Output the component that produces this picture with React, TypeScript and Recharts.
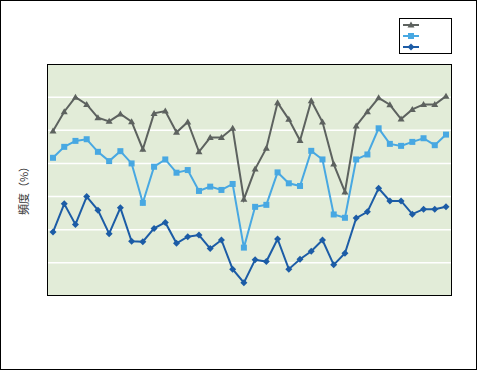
import { LineChart, Line, XAxis, YAxis, CartesianGrid } from 'recharts'

const periods = [
  '1', '2', '3', '4', '5', '6', '7', '8', '9', '10', '11', '12',
  '13', '14', '15', '16', '17', '18', '19', '20', '21', '22', '23', '24',
  '25', '26', '27', '28', '29', '30', '31', '32', '33', '34', '35', '36',
]

const upper = [
  49.8, 55.6, 60.0, 57.8, 53.8, 52.7, 54.9, 52.6, 44.3, 55.1, 55.8, 49.4,
  52.5, 43.5, 47.8, 47.8, 50.6, 29.2, 38.3, 44.6, 58.3, 53.3, 46.9, 58.9,
  52.5, 39.8, 31.4, 51.3, 55.6, 59.8, 57.7, 53.4, 56.3, 57.8, 57.8, 60.3,
]
const middle = [
  41.7, 45.0, 46.8, 47.3, 43.5, 40.7, 43.7, 40.0, 28.1, 39.0, 41.2, 37.2,
  38.0, 31.7, 33.0, 32.0, 33.8, 14.6, 26.9, 27.5, 37.3, 34.0, 33.2, 43.8,
  41.2, 24.6, 23.6, 41.2, 42.7, 50.6, 45.9, 45.3, 46.5, 47.6, 45.5, 48.7,
]
const lower = [
  19.3, 27.8, 21.6, 30.0, 25.9, 18.8, 26.6, 16.5, 16.4, 20.4, 22.2, 15.9,
  17.9, 18.4, 14.3, 16.9, 8.1, 4.0, 10.9, 10.4, 17.2, 8.1, 11.1, 13.5,
  16.9, 9.4, 12.9, 23.5, 25.4, 32.5, 28.7, 28.7, 24.7, 26.2, 26.2, 26.9,
]
const yTicks = [0, 10, 20, 30, 40, 50, 60, 70]

const GRAY = '#5d625f'
const LIGHT = '#48a8e2'
const DARK = '#1c5ca6'

const data = periods.map((p, i) => ({ period: p, upper: upper[i], middle: middle[i], lower: lower[i] }))

const Triangle = ({ cx, cy, c }: any) => (
  <polygon points={`${cx},${cy - 3.5} ${cx + 3.5},${cy + 2.5} ${cx - 3.5},${cy + 2.5}`} fill={c} />
)
const Square = ({ cx, cy, c }: any) => <rect x={cx - 3} y={cy - 3} width={6} height={6} fill={c} />
const Diamond = ({ cx, cy, c }: any) => (
  <polygon points={`${cx},${cy - 3.5} ${cx + 3.5},${cy} ${cx},${cy + 3.5} ${cx - 3.5},${cy}`} fill={c} />
)

const marker = (Shape: any, c: string) => (p: any) => <Shape key={p.index} cx={p.cx} cy={p.cy} c={c} />

const legendItems = [
  { shape: Triangle, color: GRAY },
  { shape: Square, color: LIGHT },
  { shape: Diamond, color: DARK },
]

const LegendBox = () => (
  <svg width={54} height={37} style={{ position: 'absolute', left: 399, top: 18 }}>
    <rect x={0.5} y={0.5} width={52} height={35} fill="#fff" stroke="#000" />
    {legendItems.map((it, i) => {
      const y = 7 + i * 11
      const S = it.shape
      return (
        <g key={i}>
          <line x1={4} x2={20} y1={y} y2={y} stroke={it.color} strokeWidth={2} />
          <S cx={12} cy={y} c={it.color} />
        </g>
      )
    })}
  </svg>
)

const YLabel = () => (
  <text
    x={23}
    y={188}
    transform="rotate(-90 23 188)"
    textAnchor="middle"
    dominantBaseline="central"
    fontSize={11}
    fill="#333"
    fontFamily="'Noto Sans CJK JP', sans-serif"
  >
    頻度（%）
  </text>
)

export default function App() {
  return (
    <div style={{ position: 'absolute', left: 0, top: 0, width: 477, height: 370, background: '#fff' }}>
      <LineChart width={477} height={370} data={data} margin={{ top: 64, right: 25, bottom: 74, left: 0 }}>
        <CartesianGrid vertical={false} stroke="#ffffff" strokeWidth={1.5} fill="#e2ecd8" fillOpacity={1} />
        <XAxis
          dataKey="period"
          mirror
          height={0}
          interval={0}
          padding={{ left: 6, right: 6 }}
          axisLine={false}
          tickLine={{ stroke: '#ffffff' }}
          tickSize={5}
          tickFormatter={() => ''}
        />
        <YAxis
          width={47}
          domain={[0, 70]}
          ticks={yTicks}
          tickFormatter={() => ''}
          axisLine={false}
          tickLine={false}
          label={<YLabel />}
        />
        <Line dataKey="upper" stroke={GRAY} strokeWidth={2} dot={marker(Triangle, GRAY)} isAnimationActive={false} />
        <Line dataKey="middle" stroke={LIGHT} strokeWidth={2} dot={marker(Square, LIGHT)} isAnimationActive={false} />
        <Line dataKey="lower" stroke={DARK} strokeWidth={2} dot={marker(Diamond, DARK)} isAnimationActive={false} />
      </LineChart>
      <LegendBox />
      <div
        style={{
          position: 'absolute', left: 47, top: 64, width: 405, height: 232,
          border: '1px solid #000', boxSizing: 'border-box', pointerEvents: 'none',
        }}
      />
      <div
        style={{
          position: 'absolute', left: 0, top: 0, width: 477, height: 370,
          border: '1px solid #000', boxSizing: 'border-box', pointerEvents: 'none',
        }}
      />
    </div>
  )
}
